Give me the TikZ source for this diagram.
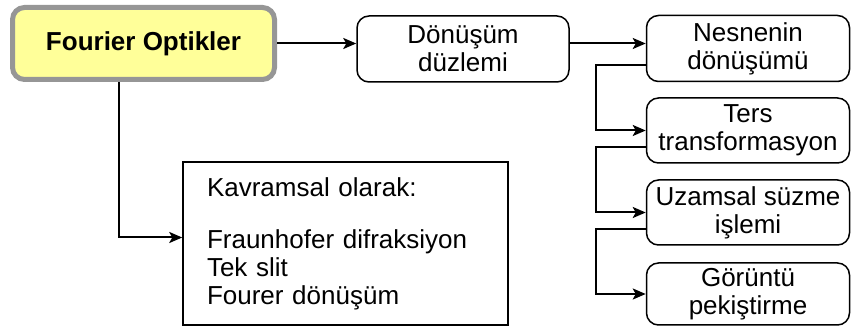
\documentclass[tikz,border=0pt]{standalone}
\usepackage{fontspec}
\setmainfont{Liberation Sans}
\usetikzlibrary{arrows.meta}

\definecolor{titlefill}{RGB}{255,255,153}
\definecolor{titleline}{RGB}{150,150,150}

\begin{document}
\begin{tikzpicture}[x=1pt, y=-1pt,
    every node/.style={font=\fontsize{26}{28}\selectfont, align=center},
    stepbox/.style={draw, rounded corners=12pt, line width=1.5pt, inner sep=0pt},
    arr/.style={-{Stealth[length=13pt,width=11pt,inset=3pt]}, line width=2pt},
    ]
    \useasboundingbox (0,0) rectangle (851,328);
    % main title
    \node[draw=titleline, fill=titlefill, line width=5pt, rounded corners=12pt,
      minimum width=262pt, minimum height=72pt,
      font=\bfseries\fontsize{26}{28}\selectfont] (fo) at (143.5,43.5) {Fourier Optikler};
    \node[stepbox, minimum width=212pt, minimum height=66pt] (dz) at (463,49) {Dönüşüm\\düzlemi};
    % right column
    \node[stepbox, minimum width=203pt, minimum height=66pt] (nes) at (748,48.5) {Nesnenin\\dönüşümü};
    \node[stepbox, minimum width=203pt, minimum height=65pt] (ters) at (748,130.5) {Ters\\transformasyon};
    \node[stepbox, minimum width=203pt, minimum height=65pt] (uz) at (748,212.5) {Uzamsal süzme\\işlemi};
    \node[stepbox, minimum width=203pt, minimum height=62pt] (gor) at (748,294) {Görüntü\\pekiştirme};
    % concepts
    \node[draw, line width=1.5pt, align=left, text width=277pt, inner xsep=24pt,
      minimum height=163pt] (kav) at (345.5,243.5)
      {Kavramsal olarak:\\[24pt]Fraunhofer difraksiyon\\Tek slit\\Fourer dönüşüm};

    \draw[arr] (fo.east) -- (fo.east -| dz.west);
    \draw[arr] (fo.east -| dz.east) -- (fo.east -| nes.west);
    \draw[arr] ([yshift=-17pt]nes.west) -- ++(-50,0) |- (ters.west);
    \draw[arr] ([yshift=-17pt]ters.west) -- ++(-50,0) |- (uz.west);
    \draw[arr] ([yshift=-17pt]uz.west) -- ++(-50,0) |- (gor.west);
    \draw[arr] ([xshift=-25pt]fo.south) |- ([yshift=6pt]kav.west);
\end{tikzpicture}
\end{document}
